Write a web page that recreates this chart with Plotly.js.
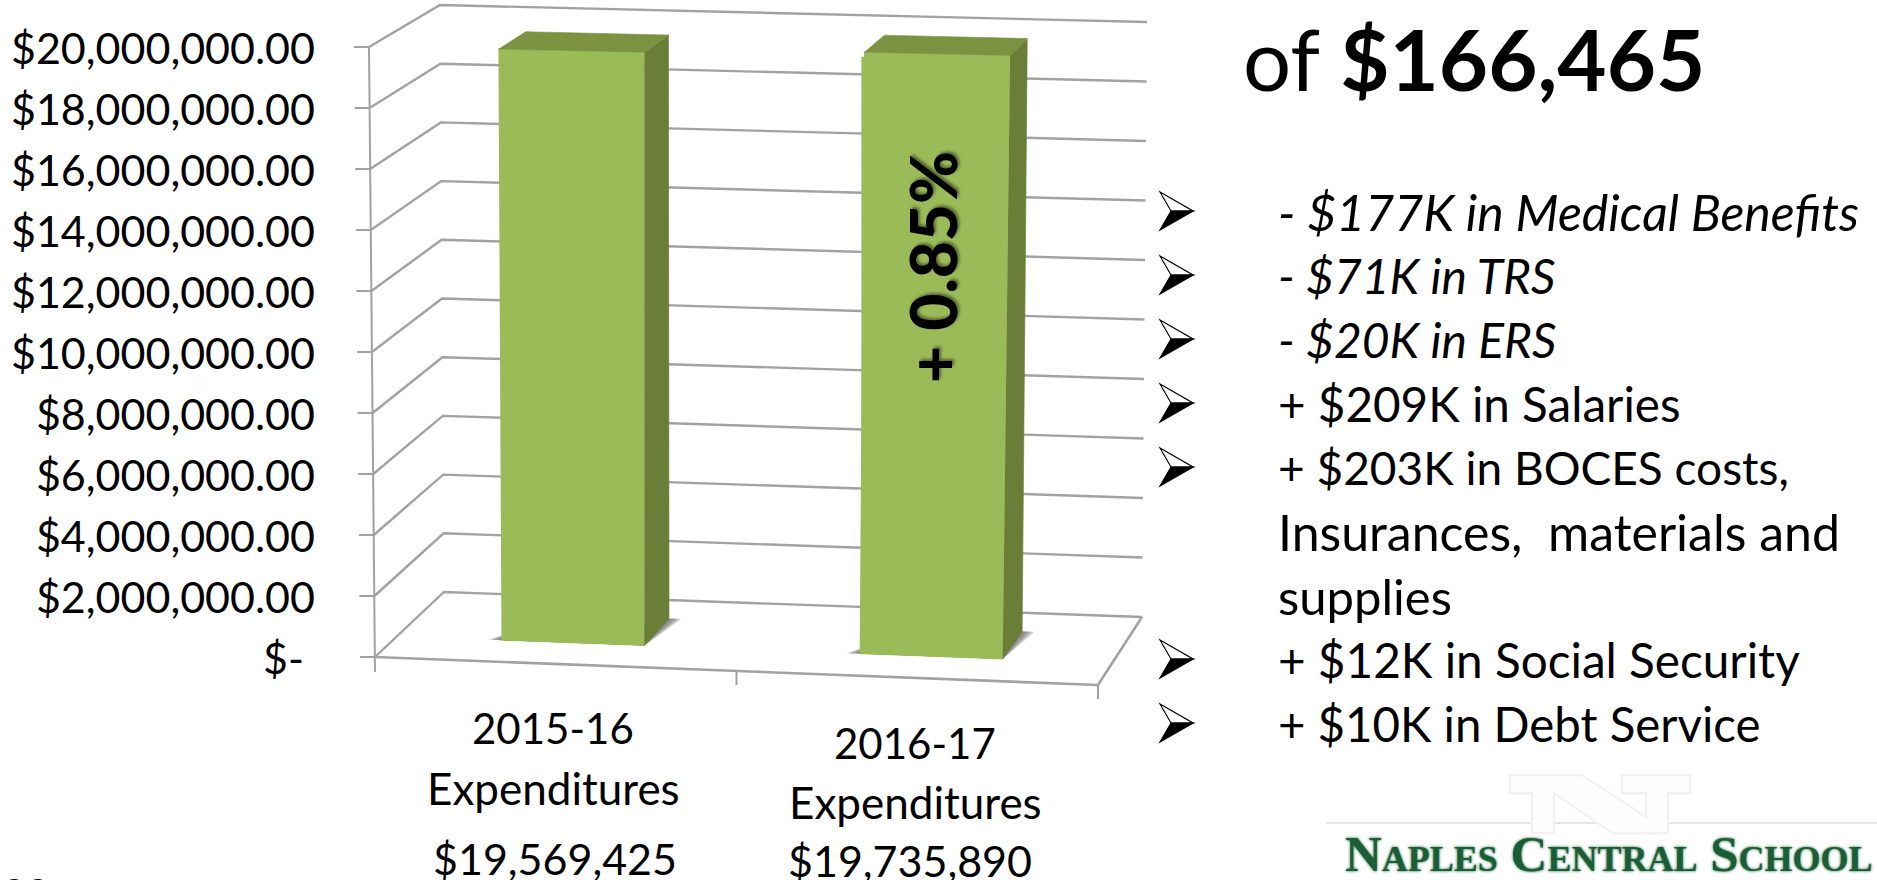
<!DOCTYPE html>
<html><head><meta charset="utf-8">
<script src="https://cdn.plot.ly/plotly-3.0.1.min.js"></script>
<style>html,body{margin:0;padding:0;background:#fff;overflow:hidden}#c{width:1877px;height:880px}</style>
</head><body><div id="c"></div>
<script>
// ---- data ----
const categories = ['2015-16', '2016-17'];
const categoryWord = 'Expenditures';
const expenditures = [19569425, 19735890];
const expenditureLabels = ['$19,569,425', '$19,735,890'];
const tickValues = [0,2e6,4e6,6e6,8e6,1e7,1.2e7,1.4e7,1.6e7,1.8e7,2e7];
const tickLabels = ['$-\u00a0','$2,000,000.00','$4,000,000.00','$6,000,000.00','$8,000,000.00','$10,000,000.00','$12,000,000.00','$14,000,000.00','$16,000,000.00','$18,000,000.00','$20,000,000.00'];
const headline = 'of <b>$166,465</b>';
const barNote = '+ 0.85%';
const bulletLines = [
  '<i>- $177K in Medical Benefits</i>',
  '<i>- $71K in TRS</i>',
  '<i>- $20K in ERS</i>',
  '+ $209K in Salaries',
  '+ $203K in BOCES costs,',
  'Insurances,  materials and',
  'supplies',
  '+ $12K in Social Security',
  '+ $10K in Debt Service'
];
const logoText = 'Naples Central School';

// ---- page + projection set-up ----
const bulletSizes = [50,48,48,47.6,46,50,49,47.7,47.4];
const bulletArrows = [1,1,1,1,1,0,0,1,1];
const W = 1877, H = 880, VMAX = 2e7;
const FONT = 'Lato, Carlito, sans-serif';
const box = {
  fl0:[375,657], fl1:[369,47], bl0:[444,592], bl1:[440,5],
  br0:[1142,617], br1:[1147,22], fr0:[1098,685], fr1:[1110,63]
};
const mix = (a,b,t)=>[a[0]+(b[0]-a[0])*t, a[1]+(b[1]-a[1])*t];
function project(c,d,value){
  const v = value/VMAX;
  const f0 = mix(mix(box.fl0,box.fr0,c), mix(box.bl0,box.br0,c), d);
  const f1 = mix(mix(box.fl1,box.fr1,c), mix(box.bl1,box.br1,c), d);
  return mix(f0,f1,v);
}
// Both subplots fill the page (lines are always clipped to a subplot).
// A is scaled to the front plane of the box, B to the plane of the bar fronts.
const DEPTH0 = 0.32, DEPTH1 = 0.727, BARW = 0.2;
const A = {x0:375, x1:1098, r:[0,2], y0:657, y1:47};
const B = {x0:393, x1:1108, r:[-0.5,1.5], y0:641, y1:49};
const conv = (S,p)=>[S.r[0]+(p[0]-S.x0)/(S.x1-S.x0)*(S.r[1]-S.r[0]), (S.y0-p[1])/(S.y0-S.y1)*VMAX];
const xs = (S,pts)=>pts.map(p=>conv(S,p)[0]);
const ys = (S,pts)=>pts.map(p=>conv(S,p)[1]);
const xRange = S=>[conv(S,[0,0])[0],conv(S,[W,0])[0]];
const yRange = S=>[conv(S,[0,H])[1],conv(S,[0,0])[1]];

const traces = [];
const GRID = '#A2A2A2';
function lineTrace(pts,width){
  traces.push({type:'scatter',mode:'lines',x:xs(A,pts),y:ys(A,pts),xaxis:'x',yaxis:'y',
    line:{color:GRID,width:width||2.4},hoverinfo:'skip',showlegend:false});
}
tickValues.forEach(v=>lineTrace([project(0,0,v),project(0,1,v),project(1,1,v)]));
lineTrace([project(0,0,VMAX),project(0,0,0),[project(0,0,0)[0],672]],2);
tickValues.forEach(v=>{const p=project(0,0,v);lineTrace([[p[0]-15,p[1]],p],2);});
lineTrace([project(0,0,0),project(1,0,0),project(1,1,0)],2.6);
[0.5,1].forEach(c=>{const p=project(c,0,0);lineTrace([p,[p[0],p[1]+14]],2);});

// floor shadows of the bars
const centers = [0.246,0.747];
centers.forEach(cc=>{
  [0.024,0.020,0.016,0.012,0.008,0.004].forEach(e=>{
    const c0=cc-BARW/2, c1=cc+BARW/2;
    const pts=[project(c0-e*0.8,DEPTH0,0),project(c1,DEPTH0,0),
               project(c1+e*0.7,DEPTH1-0.02,0),project(c1+e*0.7,DEPTH1+0.005,0),project(c1,DEPTH1,0),project(c0,DEPTH0+0.1,0)];
    traces.push({type:'scatter',mode:'lines',fill:'toself',x:xs(A,pts),y:ys(A,pts),xaxis:'x',yaxis:'y',
      line:{width:0,color:'rgba(0,0,0,0)'},fillcolor:'rgba(110,110,110,0.24)',hoverinfo:'skip',showlegend:false});
  });
});

// the bars: real values on subplot B's own scale
traces.push({type:'bar',x:expenditures.map((_,i)=>i),y:expenditures,width:0.38,xaxis:'x2',yaxis:'y2',
  marker:{color:'#9BBB59',line:{width:0}},hovertext:categories,showlegend:false});
function face(pts,color){
  traces.push({type:'scatter',mode:'lines',fill:'toself',x:xs(B,pts),y:ys(B,pts),xaxis:'x2',yaxis:'y2',
    line:{width:0.6,color:color},fillcolor:color,hoverinfo:'skip',showlegend:false});
}
expenditures.forEach((val,i)=>{
  const c0=centers[i]-BARW/2, c1=centers[i]+BARW/2;
  face([project(c0,DEPTH0,0),project(c1,DEPTH0,0),project(c1,DEPTH0,val),project(c0,DEPTH0,val)],'#9BBB59');
  face([project(c1,DEPTH0,0),project(c1,DEPTH1,0),project(c1,DEPTH1,val),project(c1,DEPTH0,val)],'#6A7E38');
  face([project(c0,DEPTH0,val),project(c1,DEPTH0,val),project(c1,DEPTH1,val),project(c0,DEPTH1,val)],'#7B9240');
});

// ---- texts ----
const ann = [];
function addText(text,px,py,size,opts){
  opts=opts||{};
  ann.push({text,x:px/W,y:1-py/H,xref:'paper',yref:'paper',xanchor:opts.xanchor||'center',yanchor:'middle',
    textangle:opts.textangle||0,showarrow:false,borderpad:0,
    font:Object.assign({family:FONT,size,color:'#000'},opts.font||{})});
}
const labelPos = [{x:553,ys:[728,788,858]},{x:915,ys:[743,802,860]}];
categories.forEach((cat,i)=>{
  addText(cat,labelPos[i].x,labelPos[i].ys[0],42);
  addText(categoryWord,labelPos[i].x,labelPos[i].ys[1],44);
  addText(expenditureLabels[i],labelPos[i].x+(i?-5:2),labelPos[i].ys[2],43);
});
addText(headline,1242,58,85,{xanchor:'left'});
addText(barNote,932,267,64,{textangle:-90,font:{weight:900,shadow:'2px 2px 3px rgba(0,0,0,0.45)'}});
const shapes=[{type:'line',xref:'paper',yref:'paper',x0:1326/W,x1:1,y0:1-823/H,y1:1-823/H,line:{color:'#DDDDDD',width:1.5},layer:'below'}];
const pathOf=(pts)=>'M'+pts.map(p=>(p[0]/W)+','+(1-p[1]/H)).join('L')+'Z';
function paperPath(pts,fill,stroke,w,layer){
  shapes.push({type:'path',xref:'paper',yref:'paper',path:pathOf(pts),fillcolor:fill,line:{color:stroke,width:w},layer:layer||'above'});
}
bulletLines.forEach((text,i)=>{
  const y=213+i*64;
  addText(text,1277,y-1.5,bulletSizes[i],{xanchor:'left'});
  if(bulletArrows[i]){
    paperPath([[1160,y-21],[1193,y-2],[1171,y-2]],'#FFFFFF','#000000',1.2);
    paperPath([[1160,y+17],[1193,y-2],[1171,y-2]],'#000000','#000000',1.2);
  }
});
addText('22',26,892,41);
// pale school-letter mark behind the logo line
const nz=[[570,45],[765,45],[940,170],[940,100],[875,100],[875,45],[1060,45],[1060,100],[1000,100],[1000,220],[850,220],[690,100],[690,220],[630,220],[630,100],[570,100]];
paperPath(nz.map(p=>[1300+p[0]/2.717,760+p[1]/3]),'#FDFDFD','#F2F2F2',2.5,'below');
addText(logoText,1609,854,51,{font:{family:'Liberation Serif',color:'#1B5E36',weight:700,variant:'small-caps',shadow:'0 0 3px #1B5E36'}});

const layout={
  width:W,height:H,margin:{l:0,r:0,t:0,b:0,pad:0},paper_bgcolor:'#fff',plot_bgcolor:'rgba(0,0,0,0)',showlegend:false,
  xaxis:{domain:[0,1],range:xRange(A),visible:false,fixedrange:true},
  yaxis:{domain:[0,1],range:yRange(A),anchor:'free',position:375/W,showgrid:false,zeroline:false,showline:false,ticks:'',
    tickmode:'array',tickvals:tickValues,ticktext:tickLabels,ticklabelstandoff:60,ticklabelshift:2,tickfont:{family:FONT,size:43,color:'#000'},fixedrange:true},
  xaxis2:{domain:[0,1],range:xRange(B),visible:false,anchor:'y2',fixedrange:true},
  yaxis2:{domain:[0,1],range:yRange(B),visible:false,anchor:'x2',fixedrange:true},
  annotations:ann,shapes
};
Plotly.newPlot('c',traces,layout,{displayModeBar:false,staticPlot:true});
</script></body></html>
